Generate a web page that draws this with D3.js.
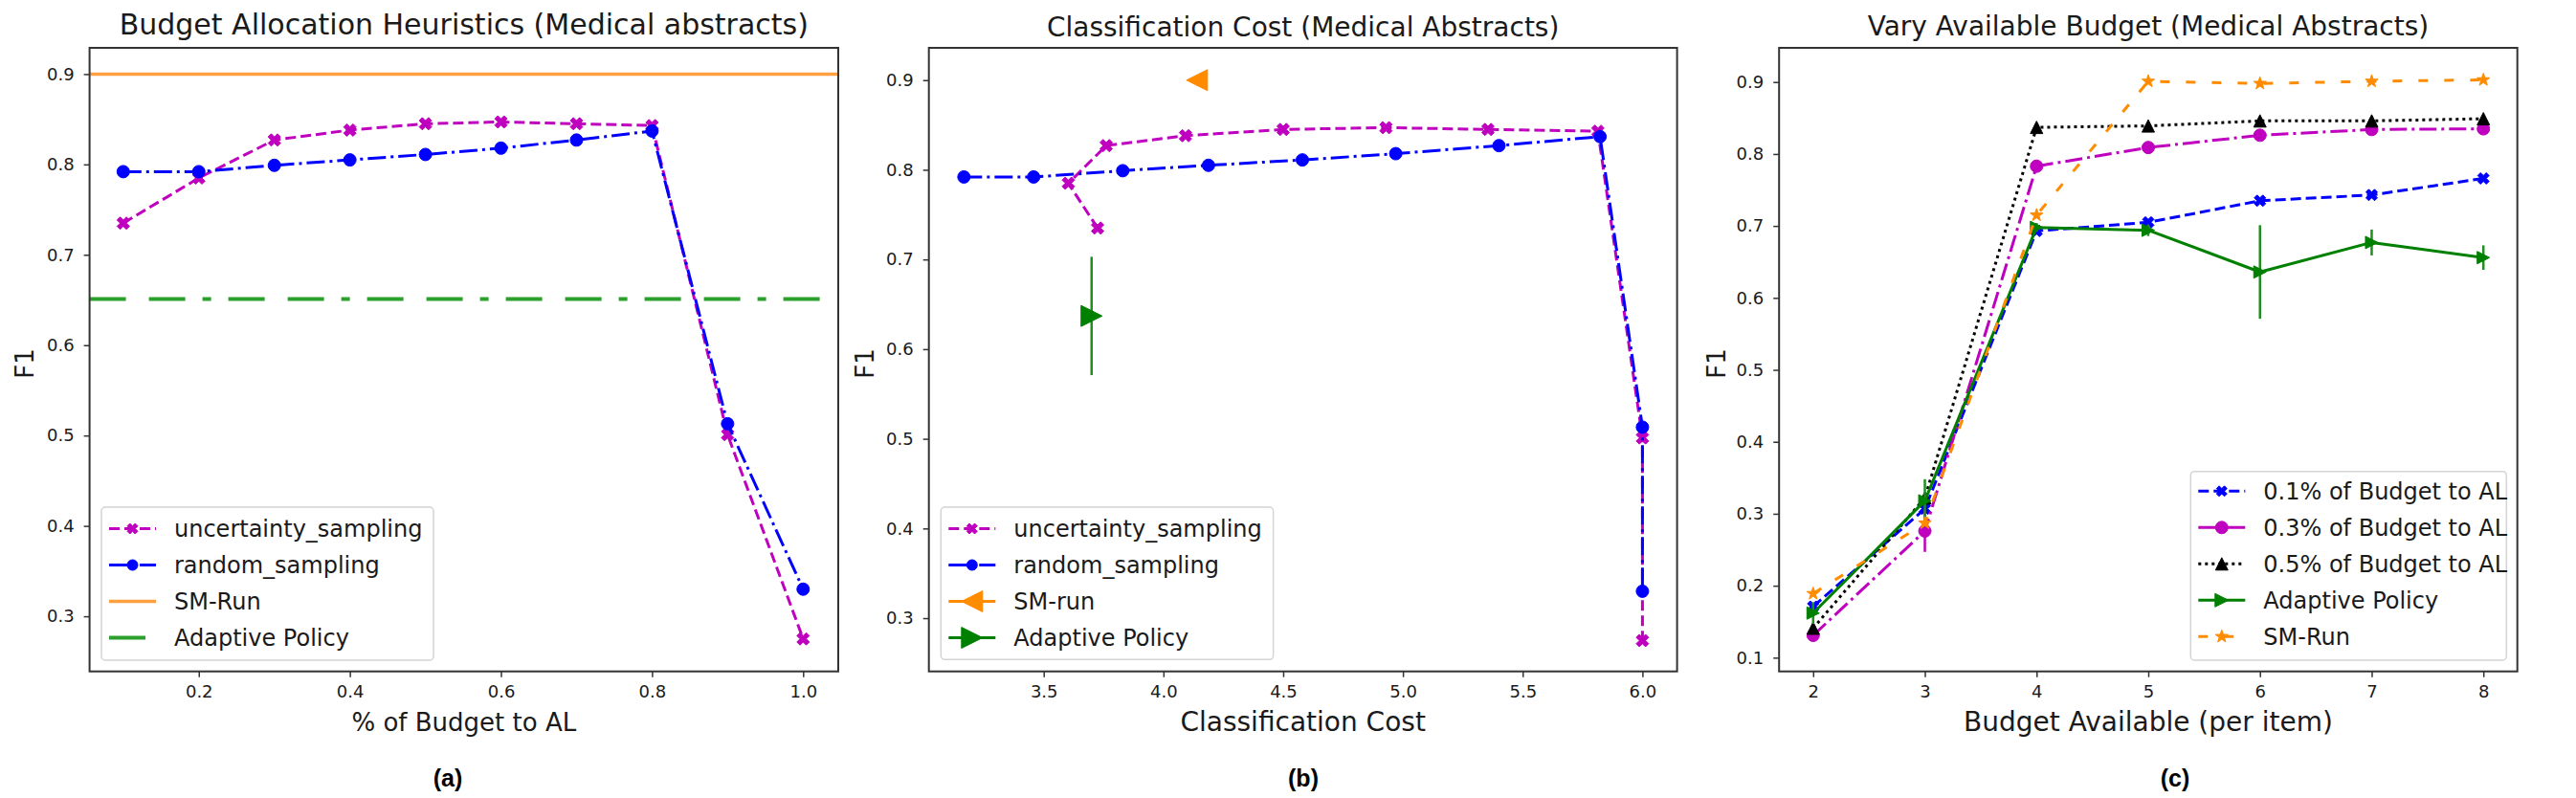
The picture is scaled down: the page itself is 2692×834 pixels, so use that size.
<!DOCTYPE html>
<html>
<head>
<meta charset="utf-8">
<script src="https://cdn.jsdelivr.net/npm/d3@7"></script>
<style>
  body { margin: 0; background: #fff; }
  svg text { font-family: "DejaVu Sans", sans-serif; fill: #1a1a1a; }
</style>
</head>
<body>
<svg id="fig" width="2692" height="834"></svg>
<script>
// ---- data ----

// (a) share of budget given to active learning
const budgetShare = [0.1, 0.2, 0.3, 0.4, 0.5, 0.6, 0.7, 0.8, 0.9, 1.0];
const uncertaintyF1 = [0.735, 0.785, 0.827, 0.838, 0.845, 0.847, 0.845, 0.843, 0.501, 0.275];
const randomF1 = [0.792, 0.792, 0.799, 0.805, 0.811, 0.818, 0.827, 0.837, 0.513, 0.330];
const smRunF1 = 0.900;
const adaptiveF1 = 0.651;

// (b) classification cost of the same runs
const uncertaintyCost = [3.725, 3.603, 3.761, 4.092, 4.500, 4.929, 5.355, 5.814, 6.0, 6.0];
const randomCost = [3.167, 3.458, 3.830, 4.188, 4.580, 4.970, 5.401, 5.823, 6.0, 6.0];
const smRunCost = [4.14];
const smRunCostF1 = [0.900];
const adaptiveCost = [3.70];
const adaptiveCostF1 = [0.637];
const adaptiveCostErr = [0.066];

// (c) available budget per item
const budgetAvail = [2, 3, 4, 5, 6, 7, 8];
const al01F1 = [0.171, 0.307, 0.693, 0.705, 0.735, 0.743, 0.766];
const al03F1 = [0.131, 0.276, 0.783, 0.809, 0.826, 0.834, 0.835];
const al03Err = [0, 0.029, 0, 0, 0, 0, 0];
const al05F1 = [0.141, 0.322, 0.837, 0.839, 0.846, 0.846, 0.849];
const adaptiveF1c = [0.162, 0.318, 0.698, 0.694, 0.636, 0.677, 0.656];
const adaptiveErrC = [0.015, 0.030, 0.006, 0.008, 0.065, 0.018, 0.017];
const smRunF1c = [0.189, 0.287, 0.715, 0.901, 0.898, 0.901, 0.903];

// ticks
const ticksA = [0.2, 0.4, 0.6, 0.8, 1.0];
const ticksB = [3.5, 4.0, 4.5, 5.0, 5.5, 6.0];
const ticksC = [2, 3, 4, 5, 6, 7, 8];
const f1TicksAB = [0.3, 0.4, 0.5, 0.6, 0.7, 0.8, 0.9];
const f1TicksC = [0.1, 0.2, 0.3, 0.4, 0.5, 0.6, 0.7, 0.8, 0.9];

// ---- layout ----
const TOP = 50, BOTTOM = 701.7;
const MAGENTA = "#bf00bf", BLUE = "#0000ff", GREEN = "#008000", ORANGE = "#ff8c00";

const svg = d3.select("#fig");

const markerPath = (type, s) => {
  const h = s / 2;
  switch (type) {
    case "o": return d3.symbol(d3.symbolCircle, Math.PI * h * h)();
    case "^": return `M0,${-h}L${h},${h}L${-h},${h}Z`;
    case "<": return `M${-h},0L${h},${-h}L${h},${h}Z`;
    case ">": return `M${h},0L${-h},${-h}L${-h},${h}Z`;
    case "X": {
      const q = h / 2;
      return `M${-q},${-h}L0,${-q}L${q},${-h}L${h},${-q}L${q},0L${h},${q}L${q},${h}L0,${q}` +
        `L${-q},${h}L${-h},${q}L${-q},0L${-h},${-q}Z`;
    }
    case "*": {
      let p = "";
      for (let i = 0; i < 10; i++) {
        const r = i % 2 === 0 ? h : h * 0.4;
        const a = -Math.PI / 2 + i * Math.PI / 5;
        p += (i ? "L" : "M") + (r * Math.cos(a)).toFixed(2) + "," + (r * Math.sin(a)).toFixed(2);
      }
      return p + "Z";
    }
  }
};

const makePanel = (cfg) => {
  const x = d3.scaleLinear().domain(cfg.xDomain).range([cfg.left, cfg.right]);
  const y = d3.scaleLinear().domain(cfg.yDomain).range([BOTTOM, TOP]);
  const g = svg.append("g");

  // axes
  const xa = g.append("g").attr("transform", `translate(0,${BOTTOM})`)
    .call(d3.axisBottom(x).tickValues(cfg.xTicks).tickFormat(d3.format(cfg.xFmt)).tickSize(6).tickPadding(9));
  const ya = g.append("g").attr("transform", `translate(${cfg.left},0)`)
    .call(d3.axisLeft(y).tickValues(cfg.yTicks).tickFormat(d3.format(".1f")).tickSize(6).tickPadding(10));
  [xa, ya].forEach(a => {
    a.select(".domain").remove();
    a.selectAll(".tick line").attr("stroke", "#333").attr("stroke-width", 1.5);
    a.selectAll(".tick text").attr("font-size", 18).attr("fill", "#1a1a1a")
      .attr("font-family", "DejaVu Sans");
  });

  // labels
  g.append("text").attr("x", (cfg.left + cfg.right) / 2).attr("y", cfg.titleY)
    .attr("text-anchor", "middle").attr("font-size", cfg.titleSize).text(cfg.title);
  g.append("text").attr("x", (cfg.left + cfg.right) / 2).attr("y", 764)
    .attr("text-anchor", "middle").attr("font-size", cfg.xlabelSize).text(cfg.xlabel);
  g.append("text").attr("transform", `translate(${cfg.ylabelX},380) rotate(-90)`)
    .attr("text-anchor", "middle").attr("dy", "0.35em").attr("font-size", 26).text("F1");
  g.append("text").attr("x", cfg.tagX).attr("y", 822).attr("text-anchor", "middle")
    .attr("font-family", "Liberation Sans").attr("font-weight", "bold").attr("font-size", 25)
    .style("font-family", "Liberation Sans, Arial, sans-serif").style("fill", "#000")
    .text(cfg.tag);

  const plot = g.append("g");
  g.append("rect").attr("x", cfg.left).attr("y", TOP)
    .attr("width", cfg.right - cfg.left).attr("height", BOTTOM - TOP)
    .attr("fill", "none").attr("stroke", "#333").attr("stroke-width", 2);

  return { x, y, g, plot };
};

const drawSeries = (p, xs, ys, st, errs) => {
  const pts = d3.zip(xs, ys);
  if (st.line !== false) {
    p.plot.append("path").datum(pts)
      .attr("d", d3.line().x(d => p.x(d[0])).y(d => p.y(d[1])))
      .attr("fill", "none").attr("stroke", st.color).attr("stroke-width", st.width || 3)
      .attr("stroke-dasharray", st.dash || null).attr("stroke-linejoin", "round");
  }
  if (errs) {
    p.plot.selectAll(null).data(pts.map((d, i) => [d[0], d[1], errs[i]]).filter(d => d[2] > 0))
      .join("line")
      .attr("x1", d => p.x(d[0])).attr("x2", d => p.x(d[0]))
      .attr("y1", d => p.y(d[1] - d[2])).attr("y2", d => p.y(d[1] + d[2]))
      .attr("stroke", st.errColor || st.color).attr("stroke-width", 2.5);
  }
  p.plot.selectAll(null).data(pts).join("path")
    .attr("d", markerPath(st.marker, st.size))
    .attr("transform", d => `translate(${p.x(d[0])},${p.y(d[1])})`)
    .attr("fill", st.color).attr("stroke", st.color).attr("stroke-width", 1);
};

const drawHLine = (p, value, st) => {
  p.plot.append("line")
    .attr("x1", p.x.range()[0]).attr("x2", p.x.range()[1])
    .attr("y1", p.y(value)).attr("y2", p.y(value))
    .attr("stroke", st.color).attr("stroke-width", st.width)
    .attr("stroke-dasharray", st.dash || null);
};

const drawLegend = (p, box, entries) => {
  const lg = p.g.append("g");
  lg.append("rect").attr("x", box.x).attr("y", box.y).attr("width", box.w).attr("height", box.h)
    .attr("rx", 4).attr("fill", "#fff").attr("fill-opacity", 0.8)
    .attr("stroke", "#d4d4d4").attr("stroke-width", 1.5);
  entries.forEach((e, i) => {
    const cy = box.firstRow + i * 38;
    const x0 = box.x + 8, x1 = box.x + 57;
    lg.append("line").attr("x1", x0).attr("x2", x1).attr("y1", cy).attr("y2", cy)
      .attr("stroke", e.color).attr("stroke-width", e.width || 3)
      .attr("stroke-dasharray", e.dash || null);
    if (e.marker) {
      lg.append("path").attr("d", markerPath(e.marker, e.size))
        .attr("transform", `translate(${(x0 + x1) / 2},${cy})`)
        .attr("fill", e.color).attr("stroke", e.color);
    }
    lg.append("text").attr("x", box.x + 76).attr("y", cy).attr("dy", "0.35em")
      .attr("font-size", 24).text(e.label);
  });
};

// ---- (a) ----
const pa = makePanel({
  left: 93.6, right: 876, xDomain: [0.0554, 1.0465], yDomain: [0.239, 0.929],
  xTicks: ticksA, yTicks: f1TicksAB, xFmt: ".1f",
  title: "Budget Allocation Heuristics (Medical abstracts)", titleSize: 30, titleY: 36,
  xlabel: "% of Budget to AL", xlabelSize: 26, ylabelX: 26, tag: "(a)", tagX: 468
});
const usStyle = { color: MAGENTA, dash: "11,5", marker: "X", size: 13 };
const rsStyle = { color: BLUE, dash: "19,5,3,5", marker: "o", size: 13 };
const smLineStyle = { color: "#ffa040", width: 3.5 };
const apLineStyle = { color: "#2ca02c", width: 4, dash: "38,24,38,18,9,18" };
drawSeries(pa, budgetShare, uncertaintyF1, usStyle);
drawSeries(pa, budgetShare, randomF1, rsStyle);
drawHLine(pa, smRunF1, smLineStyle);
drawHLine(pa, adaptiveF1, apLineStyle);
drawLegend(pa, { x: 106, y: 530, w: 347, h: 160, firstRow: 552.5 }, [
  { label: "uncertainty_sampling", ...usStyle, size: 11 },
  { label: "random_sampling", ...rsStyle, size: 11 },
  { label: "SM-Run", ...smLineStyle },
  { label: "Adaptive Policy", ...apLineStyle }
]);

// ---- (b) ----
const pb = makePanel({
  left: 970.7, right: 1752.6, xDomain: [3.0206, 6.1446], yDomain: [0.2406, 0.936],
  xTicks: ticksB, yTicks: f1TicksAB, xFmt: ".1f",
  title: "Classification Cost (Medical Abstracts)", titleSize: 28, titleY: 38,
  xlabel: "Classification Cost", xlabelSize: 28, ylabelX: 904, tag: "(b)", tagX: 1362
});
drawSeries(pb, uncertaintyCost, uncertaintyF1, usStyle);
drawSeries(pb, randomCost, randomF1, rsStyle);
drawSeries(pb, smRunCost, smRunCostF1, { color: ORANGE, marker: "<", size: 22, line: false });
drawSeries(pb, adaptiveCost, adaptiveCostF1,
  { color: GREEN, marker: ">", size: 22, line: false, errColor: "#1f8f1f" }, adaptiveCostErr);
drawLegend(pb, { x: 983.3, y: 530, w: 347.3, h: 159.3, firstRow: 552.5 }, [
  { label: "uncertainty_sampling", ...usStyle, size: 11 },
  { label: "random_sampling", ...rsStyle, size: 11 },
  { label: "SM-run", color: ORANGE, marker: "<", size: 22 },
  { label: "Adaptive Policy", color: GREEN, marker: ">", size: 22 }
]);

// ---- (c) ----
const pc = makePanel({
  left: 1859.2, right: 2630.7, xDomain: [1.695, 8.304], yDomain: [0.0809, 0.9475],
  xTicks: ticksC, yTicks: f1TicksC, xFmt: "d",
  title: "Vary Available Budget (Medical Abstracts)", titleSize: 28, titleY: 37,
  xlabel: "Budget Available (per item)", xlabelSize: 28, ylabelX: 1794, tag: "(c)", tagX: 2273
});
const c01 = { color: BLUE, dash: "11,5", marker: "X", size: 12 };
const c03 = { color: MAGENTA, dash: "18,5,3,5", marker: "o", size: 13 };
const c05 = { color: "#000", dash: "3,4", marker: "^", size: 13 };
const cAp = { color: GREEN, marker: ">", size: 13, errColor: "#1f8f1f" };
const cSm = { color: ORANGE, dash: "10,17", marker: "*", size: 14 };
drawSeries(pc, budgetAvail, al01F1, c01);
drawSeries(pc, budgetAvail, al03F1, c03, al03Err);
drawSeries(pc, budgetAvail, al05F1, c05);
drawSeries(pc, budgetAvail, adaptiveF1c, cAp, adaptiveErrC);
drawSeries(pc, budgetAvail, smRunF1c, cSm);
drawLegend(pc, { x: 2289.3, y: 492.7, w: 330, h: 197.3, firstRow: 513.3 }, [
  { label: "0.1% of Budget to AL", ...c01, size: 11 },
  { label: "0.3% of Budget to AL", color: MAGENTA, marker: "o", size: 13 },
  { label: "0.5% of Budget to AL", ...c05 },
  { label: "Adaptive Policy", color: GREEN, marker: ">", size: 14 },
  { label: "SM-Run", ...cSm }
]);
</script>
</body>
</html>
